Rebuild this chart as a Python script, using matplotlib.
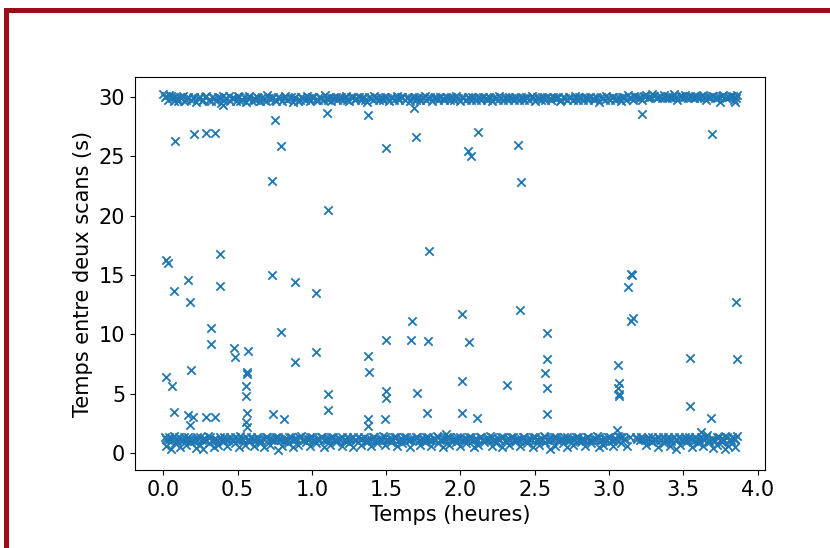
import numpy as np
import matplotlib
matplotlib.use("Agg")
import matplotlib.pyplot as plt
from matplotlib.patches import Rectangle

plt.rcParams['font.family'] = ['DejaVu Sans']

# ---- data (hours, seconds) ----
top_band = """0.00 30.3, 0.02 30.1, 0.04 30.2, 0.06 29.9, 0.08 30.0, 0.10 29.7, 0.13 30.1, 0.15 29.8, 0.17 30.0, 0.20 29.9,
0.22 29.6, 0.25 30.0, 0.27 29.8, 0.29 30.1, 0.32 29.7, 0.34 29.9, 0.37 30.0, 0.39 29.5, 0.41 29.8, 0.44 30.1,
0.46 29.9, 0.49 29.7, 0.51 30.0, 0.53 29.8, 0.56 29.6, 0.58 30.1, 0.61 29.9, 0.63 30.0, 0.65 29.7, 0.68 29.8,
0.70 30.2, 0.73 29.9, 0.75 29.8, 0.77 30.0, 0.80 29.7, 0.82 30.1, 0.85 29.9, 0.87 29.6, 0.89 30.0, 0.92 29.8,
0.94 29.9, 0.97 30.1, 0.99 29.7, 1.01 30.0, 1.04 29.8, 1.06 29.9, 1.09 30.2, 1.11 29.8, 1.13 29.7, 1.16 30.0,
1.18 29.9, 1.21 29.8, 1.23 30.1, 1.25 29.7, 1.28 30.0, 1.30 29.9, 1.33 29.8, 1.35 30.0, 1.37 29.6, 1.40 29.9,
1.42 30.1, 1.45 29.8, 1.47 29.9, 1.49 30.0, 1.52 29.7, 1.54 29.9, 1.57 30.1, 1.59 29.8, 1.61 30.0, 1.64 29.9,
1.66 29.7, 1.69 30.0, 1.71 29.9, 1.73 29.8, 1.76 30.1, 1.78 29.9, 1.81 29.7, 1.83 30.0, 1.85 29.8, 1.88 29.9,
1.90 30.0, 1.93 29.8, 1.95 29.9, 1.97 30.1, 2.00 29.7, 2.02 29.9, 2.05 30.0, 2.07 29.8, 2.09 29.9, 2.12 30.0,
2.14 29.8, 2.17 29.9, 2.19 30.0, 2.21 29.7, 2.24 29.9, 2.26 30.1, 2.29 29.8, 2.31 29.9, 2.33 30.0, 2.36 29.8,
2.38 29.9, 2.41 30.0, 2.43 29.8, 2.45 29.9, 2.48 30.1, 2.50 29.7, 2.53 29.9, 2.55 30.0, 2.57 29.8, 2.60 29.9,
2.62 30.0, 2.65 29.9, 2.67 29.7, 2.69 30.0, 2.72 29.8, 2.74 29.9, 2.77 30.1, 2.79 29.8, 2.81 29.9, 2.84 30.0,
2.86 29.8, 2.89 29.9, 2.91 30.0, 2.93 29.6, 2.96 29.9, 2.98 30.1, 3.01 29.8, 3.03 30.0, 3.05 29.9, 3.08 29.7,
3.10 30.0, 3.13 30.2, 3.15 29.9, 3.17 30.1, 3.20 30.0, 3.22 29.8, 3.25 30.2, 3.27 30.0, 3.29 30.3, 3.32 29.9,
3.34 30.1, 3.37 30.2, 3.39 29.9, 3.41 30.0, 3.44 30.3, 3.46 29.8, 3.49 30.1, 3.51 30.2, 3.53 29.9, 3.56 30.0,
3.58 30.1, 3.61 29.9, 3.63 30.2, 3.65 29.8, 3.68 30.0, 3.70 30.1, 3.73 29.9, 3.75 29.6, 3.77 30.2, 3.80 30.0,
3.82 30.1, 3.84 29.8, 3.86 30.2, 3.85 29.6"""

top_band_2 = """0.01 30.0, 0.03 29.8, 0.05 30.1, 0.07 29.7, 0.09 29.9, 0.115 30.0, 0.14 29.7, 0.16 29.9, 0.185 29.8, 0.21 30.0,
0.235 29.9, 0.26 29.7, 0.28 30.0, 0.305 29.8, 0.33 30.0, 0.355 29.7, 0.38 29.9, 0.40 30.1, 0.425 29.9, 0.45 29.7,
0.475 29.9, 0.50 30.1, 0.52 29.7, 0.545 30.0, 0.57 29.9, 0.595 29.7, 0.62 29.8, 0.64 29.9, 0.665 30.0, 0.69 29.7,
0.715 29.9, 0.74 30.0, 0.76 29.7, 0.785 29.9, 0.81 29.9, 0.835 29.8, 0.86 30.0, 0.88 29.9, 0.905 29.7, 0.93 30.0,
0.955 29.8, 0.98 29.9, 1.00 30.0, 1.025 29.8, 1.05 30.0, 1.075 29.8, 1.10 29.9, 1.12 30.0, 1.145 29.9, 1.17 29.8,
1.195 30.0, 1.22 29.9, 1.24 29.8, 1.265 30.0, 1.29 29.8, 1.315 30.0, 1.34 29.9, 1.36 29.8, 1.385 30.0, 1.41 29.8,
1.435 29.9, 1.46 30.0, 1.48 29.8, 1.505 29.9, 1.53 30.0, 1.555 29.8, 1.58 29.9, 1.60 30.0, 1.625 29.8, 1.65 30.0,
1.675 29.9, 1.70 29.8, 1.72 30.0, 1.745 29.9, 1.77 29.8, 1.795 30.0, 1.82 29.9, 1.84 29.9, 1.865 30.0, 1.89 29.8,
1.915 29.9, 1.94 30.0, 1.96 29.8, 1.985 29.9, 2.01 30.0, 2.035 29.8, 2.06 29.9, 2.08 30.0, 2.105 29.8, 2.13 29.9,
2.155 30.0, 2.18 29.8, 2.20 29.9, 2.225 30.0, 2.25 29.8, 2.275 29.9, 2.30 30.0, 2.32 29.8, 2.345 29.9, 2.37 30.0,
2.395 29.8, 2.42 29.9, 2.44 30.0, 2.465 29.8, 2.49 29.9, 2.515 30.0, 2.54 29.8, 2.56 29.9, 2.585 30.0, 2.61 29.8,
2.635 29.9, 2.66 30.0, 2.68 29.8, 2.705 29.9, 2.73 30.0, 2.755 29.8, 2.78 29.9, 2.80 30.0, 2.825 29.8, 2.85 29.9,
2.875 30.0, 2.90 29.8, 2.92 29.9, 2.945 30.0, 2.97 29.8, 2.995 29.9, 3.02 30.0, 3.04 29.8, 3.065 29.9, 3.09 30.0,
3.115 29.8, 3.14 30.0, 3.16 29.8, 3.185 30.0, 3.21 29.9, 3.235 30.1, 3.26 29.9, 3.28 30.0, 3.305 30.1, 3.33 30.0,
3.355 29.9, 3.38 30.0, 3.40 30.1, 3.425 29.9, 3.45 30.0, 3.475 30.1, 3.50 29.9, 3.52 30.0, 3.545 30.1, 3.57 29.9,
3.595 30.0, 3.62 30.1, 3.64 29.9, 3.665 30.0, 3.69 30.1, 3.715 29.9, 3.74 30.0, 3.76 30.1, 3.785 29.9, 3.81 30.0,
3.835 30.1, 3.855 29.9"""

bottom_band = """0.01 1.3, 0.03 1.1, 0.05 1.2, 0.07 1.4, 0.09 1.0, 0.12 1.2, 0.14 1.3, 0.16 1.1, 0.18 1.2, 0.21 1.0,
0.23 1.3, 0.26 1.1, 0.28 1.2, 0.30 1.4, 0.33 1.0, 0.35 1.2, 0.38 1.3, 0.40 1.1, 0.42 1.2, 0.45 1.3,
0.47 1.0, 0.50 1.2, 0.52 1.4, 0.54 1.1, 0.57 1.2, 0.59 1.3, 0.62 1.1, 0.64 1.2, 0.66 1.0, 0.69 1.3,
0.71 1.2, 0.74 1.1, 0.76 1.3, 0.78 1.2, 0.81 1.0, 0.83 1.2, 0.86 1.3, 0.88 1.1, 0.90 1.2, 0.93 1.4,
0.95 1.1, 0.98 1.2, 1.00 1.3, 1.02 1.0, 1.05 1.2, 1.07 1.3, 1.10 1.1, 1.12 1.2, 1.14 1.3, 1.17 1.1,
1.19 1.2, 1.22 1.0, 1.24 1.3, 1.26 1.2, 1.29 1.1, 1.31 1.3, 1.34 1.2, 1.36 1.0, 1.38 1.2, 1.41 1.3,
1.43 1.1, 1.46 1.2, 1.48 1.4, 1.50 1.1, 1.53 1.2, 1.55 1.3, 1.58 1.0, 1.60 1.2, 1.62 1.3, 1.65 1.1,
1.67 1.2, 1.70 1.3, 1.72 1.0, 1.74 1.2, 1.77 1.3, 1.79 1.1, 1.82 1.2, 1.84 1.4, 1.86 1.1, 1.89 1.2,
1.91 1.3, 1.94 1.0, 1.96 1.2, 1.98 1.3, 2.01 1.1, 2.03 1.2, 2.06 1.3, 2.08 1.0, 2.10 1.2, 2.13 1.3,
2.15 1.1, 2.18 1.2, 2.20 1.4, 2.22 1.1, 2.25 1.2, 2.27 1.3, 2.30 1.0, 2.32 1.2, 2.34 1.3, 2.37 1.1,
2.39 1.2, 2.42 1.3, 2.44 1.0, 2.46 1.2, 2.49 1.3, 2.51 1.1, 2.54 1.2, 2.56 1.4, 2.58 1.1, 2.61 1.2,
2.63 1.3, 2.66 1.0, 2.68 1.2, 2.70 1.3, 2.73 1.1, 2.75 1.2, 2.78 1.3, 2.80 1.0, 2.82 1.2, 2.85 1.3,
2.87 1.1, 2.90 1.2, 2.92 1.4, 2.94 1.1, 2.97 1.2, 2.99 1.3, 3.02 1.0, 3.04 1.2, 3.06 1.4, 3.09 1.3,
3.11 1.2, 3.14 1.3, 3.18 1.3, 3.21 1.1, 3.23 1.2, 3.26 1.3, 3.28 1.0, 3.30 1.2, 3.33 1.3, 3.35 1.1,
3.38 1.2, 3.40 1.3, 3.42 1.0, 3.45 1.2, 3.47 1.3, 3.50 1.1, 3.52 1.2, 3.54 1.3, 3.57 1.0, 3.59 1.2,
3.62 1.3, 3.64 1.1, 3.66 1.5, 3.69 1.2, 3.71 1.0, 3.74 1.3, 3.76 1.2, 3.78 1.4, 3.81 1.1, 3.83 1.3,
3.85 1.2, 3.86 1.4"""

bottom_band_2 = """0.02 1.2, 0.04 1.3, 0.06 1.1, 0.085 1.2, 0.105 1.3, 0.13 1.1, 0.15 1.2, 0.17 1.3, 0.195 1.1, 0.22 1.2,
0.245 1.3, 0.27 1.2, 0.29 1.1, 0.315 1.3, 0.34 1.2, 0.365 1.1, 0.39 1.2, 0.41 1.3, 0.435 1.1, 0.46 1.2,
0.485 1.3, 0.51 1.1, 0.53 1.2, 0.555 1.3, 0.58 1.1, 0.605 1.2, 0.63 1.3, 0.65 1.1, 0.675 1.2, 0.70 1.3,
0.725 1.1, 0.75 1.2, 0.77 1.3, 0.795 1.1, 0.82 1.2, 0.845 1.3, 0.87 1.1, 0.89 1.2, 0.915 1.3, 0.94 1.1,
0.965 1.2, 0.99 1.3, 1.01 1.1, 1.035 1.2, 1.06 1.3, 1.085 1.1, 1.11 1.2, 1.13 1.3, 1.155 1.1, 1.18 1.2,
1.205 1.3, 1.23 1.1, 1.25 1.2, 1.275 1.3, 1.30 1.1, 1.325 1.2, 1.35 1.3, 1.37 1.1, 1.395 1.2, 1.42 1.3,
1.445 1.1, 1.47 1.2, 1.49 1.3, 1.515 1.1, 1.54 1.2, 1.565 1.3, 1.59 1.1, 1.61 1.2, 1.635 1.3, 1.66 1.1,
1.685 1.2, 1.71 1.3, 1.73 1.1, 1.755 1.2, 1.78 1.3, 1.805 1.1, 1.83 1.2, 1.85 1.3, 1.875 1.1, 1.90 1.2,
1.925 1.3, 1.95 1.1, 1.97 1.2, 1.995 1.3, 2.02 1.1, 2.045 1.2, 2.07 1.3, 2.09 1.1, 2.115 1.2, 2.14 1.3,
2.165 1.1, 2.19 1.2, 2.21 1.3, 2.235 1.1, 2.26 1.2, 2.285 1.3, 2.31 1.1, 2.33 1.2, 2.355 1.3, 2.38 1.1,
2.405 1.2, 2.43 1.3, 2.45 1.1, 2.475 1.2, 2.50 1.3, 2.525 1.1, 2.55 1.2, 2.57 1.3, 2.595 1.1, 2.62 1.2,
2.645 1.3, 2.67 1.1, 2.69 1.2, 2.715 1.3, 2.74 1.1, 2.765 1.2, 2.79 1.3, 2.81 1.1, 2.835 1.2, 2.86 1.3,
2.885 1.1, 2.91 1.2, 2.93 1.3, 2.955 1.1, 2.98 1.2, 3.005 1.3, 3.03 1.1, 3.05 1.2, 3.075 1.3, 3.10 1.2,
3.19 1.2, 3.215 1.3, 3.24 1.1, 3.265 1.2, 3.29 1.3, 3.315 1.1, 3.34 1.2, 3.365 1.3, 3.39 1.1, 3.41 1.2,
3.435 1.3, 3.46 1.1, 3.485 1.2, 3.51 1.3, 3.53 1.1, 3.555 1.2, 3.58 1.3, 3.605 1.1, 3.63 1.2, 3.65 1.3,
3.675 1.1, 3.70 1.2, 3.725 1.3, 3.75 1.1, 3.77 1.2, 3.795 1.3, 3.82 1.1, 3.84 1.2"""

bottom_low = """0.02 0.6, 0.05 0.3, 0.08 0.8, 0.11 0.5, 0.15 0.7, 0.19 0.9, 0.22 0.4, 0.25 0.7, 0.27 0.3, 0.31 0.8,
0.34 0.5, 0.37 0.7, 0.40 0.9, 0.43 0.6, 0.48 0.8, 0.51 0.5, 0.55 0.7, 0.58 0.9, 0.61 0.6, 0.65 0.8,
0.68 0.5, 0.72 0.7, 0.77 0.2, 0.80 0.6, 0.84 0.8, 0.87 0.5, 0.91 0.7, 0.96 0.9, 0.99 0.6, 1.03 0.8,
1.08 0.5, 1.12 0.7, 1.16 0.9, 1.20 0.6, 1.25 0.8, 1.28 0.5, 1.33 0.7, 1.37 0.9, 1.40 0.6, 1.44 0.8,
1.49 0.7, 1.53 0.9, 1.57 0.6, 1.61 0.8, 1.66 0.5, 1.73 0.7, 1.76 0.9, 1.80 0.6, 1.85 0.8, 1.88 0.5,
1.92 0.7, 1.97 0.9, 2.00 0.6, 2.04 0.8, 2.09 0.5, 2.12 0.7, 2.16 0.9, 2.21 0.6, 2.24 0.8, 2.28 0.5,
2.33 0.7, 2.37 0.9, 2.40 0.6, 2.45 0.8, 2.49 0.5, 2.53 0.7, 2.57 0.9, 2.60 0.3, 2.64 0.6, 2.69 0.8,
2.72 0.5, 2.76 0.7, 2.81 0.9, 2.84 0.6, 2.88 0.8, 2.93 0.5, 2.96 0.7, 3.00 0.9, 3.03 0.6, 3.08 0.8,
3.12 0.6, 3.25 0.7, 3.29 0.9, 3.33 0.5, 3.37 0.8, 3.41 0.6, 3.45 0.3, 3.48 0.7, 3.52 0.9, 3.56 0.5,
3.60 0.8, 3.63 0.6, 3.67 0.9, 3.70 0.4, 3.73 0.7, 3.76 0.9, 3.78 0.3, 3.80 0.6, 3.83 0.8, 3.85 0.5"""

scatter_x = [0.08, 0.21, 0.29, 0.35, 0.40, 0.75, 0.79, 0.73, 1.10, 1.11,
             0.02, 0.035, 0.38, 0.73,
             1.38, 1.69, 1.70, 1.50, 2.12, 2.05, 2.07, 2.39, 2.41, 1.79,
             3.22, 3.69,
             0.07, 0.17, 0.18, 0.38, 0.89, 1.03,
             0.32, 0.32, 0.476, 0.48, 0.57, 0.79, 0.89, 1.03,
             0.02, 0.06, 0.185, 0.563, 0.565, 0.56, 0.56, 1.11, 1.11,
             0.07, 0.17, 0.20, 0.18, 0.286, 0.346, 0.565, 0.56, 0.565, 0.737, 0.81,
             1.378, 1.385, 1.50, 1.675, 1.67, 1.78, 2.01, 2.06, 2.40,
             2.58, 2.58, 2.57, 2.58, 2.58, 1.50, 1.50, 1.71, 2.01, 2.316,
             1.378, 1.378, 1.49, 1.776, 2.01, 2.115, 1.90,
             3.15, 3.155, 3.13, 3.16, 3.15, 3.855, 3.547, 3.86,
             3.064, 3.067, 3.06, 3.067, 3.065, 3.547, 3.685, 3.055, 3.62]
scatter_y = [26.3, 26.9, 26.95, 26.95, 29.3, 28.1, 25.9, 22.9, 28.7, 20.5,
             16.3, 16.0, 16.8, 15.0,
             28.5, 29.1, 26.6, 25.7, 27.1, 25.5, 25.0, 25.95, 22.85, 17.05,
             28.6, 26.9,
             13.67, 14.57, 12.75, 14.07, 14.43, 13.45,
             10.5, 9.18, 8.82, 8.06, 8.6, 10.17, 7.64, 8.48,
             6.37, 5.64, 6.99, 6.85, 6.65, 5.64, 4.8, 4.97, 3.62,
             3.43, 3.2, 3.06, 2.36, 3.06, 3.06, 3.34, 2.64, 2.2, 3.29, 2.84,
             8.2, 6.85, 9.52, 11.12, 9.52, 9.43, 11.74, 9.35, 12.07,
             10.1, 7.95, 6.77, 5.48, 3.26, 5.25, 4.66, 5.03, 6.09, 5.73,
             2.86, 2.22, 2.84, 3.34, 3.34, 2.92, 1.6,
             15.08, 15.0, 13.96, 11.35, 11.15, 12.75, 8.03, 7.89,
             7.44, 5.87, 5.45, 4.97, 4.75, 3.96, 2.92, 1.9, 1.74]

x_ticks = [0.0, 0.5, 1.0, 1.5, 2.0, 2.5, 3.0, 3.5, 4.0]
y_ticks = [0, 5, 10, 15, 20, 25, 30]


def parse_pairs(text):
    xs, ys = [], []
    for item in text.replace("\n", " ").split(","):
        item = item.strip()
        if item:
            a, b = item.split()
            xs.append(float(a))
            ys.append(float(b))
    return xs, ys


tx, ty = parse_pairs(top_band)
tx2, ty2 = parse_pairs(top_band_2)
bx, by = parse_pairs(bottom_band)
bx2, by2 = parse_pairs(bottom_band_2)
lx, ly = parse_pairs(bottom_low)

x = np.array(tx + tx2 + bx + bx2 + lx + scatter_x)
y = np.array(ty + ty2 + by + by2 + ly + scatter_y)

fig = plt.figure(figsize=(8.3, 5.48), dpi=100)
ax = fig.add_axes([135 / 830, 78 / 548, 630 / 830, 393 / 548])
ax.scatter(x, y, marker='x', color='#1f77b4', s=36, linewidths=1.3)

ax.set_xticks(x_ticks)
ax.set_yticks(y_ticks)
ax.set_xlim(-0.19, 4.05)
ax.set_ylim(-1.45, 31.7)
ax.tick_params(labelsize=15)
ax.set_xlabel("Temps (heures)", fontsize=15, labelpad=4)
ax.set_ylabel("Temps entre deux scans (s)", fontsize=15, labelpad=4)

# slide frame (dark red border on top and left)
red = '#9b0d18'
fig.add_artist(Rectangle((4 / 830, 1 - 13 / 548), 1, 5 / 548,
                         transform=fig.transFigure, color=red, lw=0))
fig.add_artist(Rectangle((4 / 830, 0), 5 / 830, 1 - 8 / 548,
                         transform=fig.transFigure, color=red, lw=0))

fig.savefig("out.png", dpi=100)
